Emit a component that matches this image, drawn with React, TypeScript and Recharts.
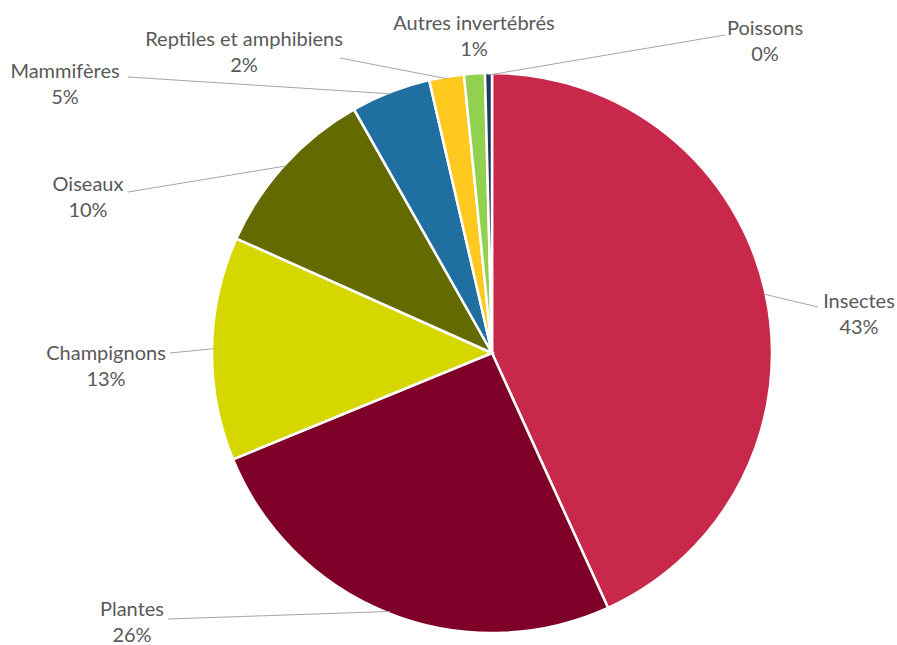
import { PieChart, Pie, Cell } from 'recharts';

// Répartition par groupe (sens horaire depuis midi)
const categories = [
    'Insectes',
    'Plantes',
    'Champignons',
    'Oiseaux',
    'Mammifères',
    'Reptiles et amphibiens',
    'Autres invertébrés',
    'Poissons',
];
const values = [43.2, 25.6, 12.9, 10.1, 4.6, 2.0, 1.2, 0.4];
const colors = ['#c8294a', '#7e0028', '#d6d600', '#636b00', '#1f6fa0', '#ffc91f', '#92d050', '#1f3864'];

// Position des étiquettes (centre du texte) et fin du trait de rappel
const labelLayout = [
    { x: 859, y: 300, lx: 818, ly: 307 },
    { x: 132, y: 608, lx: 168, ly: 619 },
    { x: 106, y: 352, lx: 170, ly: 353 },
    { x: 88, y: 183, lx: 128, ly: 192 },
    { x: 65, y: 70, lx: 128, ly: 77 },
    { x: 244, y: 38, lx: 340, ly: 58 },
    { x: 474, y: 22, lx: null, ly: null },
    { x: 765, y: 27, lx: 725, ly: 35 },
];

const data = categories.map((name, i) => ({ name, value: values[i] }));
const total = values.reduce((a, b) => a + b, 0);
const RAD = Math.PI / 180;

function renderLabel(props: any) {
    const { cx, cy, midAngle, outerRadius, index } = props;
    const pos = labelLayout[index];
    const sx = cx + (outerRadius - 2) * Math.cos(-midAngle * RAD);
    const sy = cy + (outerRadius - 2) * Math.sin(-midAngle * RAD);
    const pct = Math.round((values[index] / total) * 100);
    return (
        <g key={`label-${index}`}>
            {pos.lx !== null && (
                <line x1={sx} y1={sy} x2={pos.lx} y2={pos.ly} stroke="#a6a6a6" strokeWidth={1} />
            )}
            <text x={pos.x} y={pos.y} textAnchor="middle" dominantBaseline="central" fill="#595959" fontSize={20}>
                {categories[index]}
            </text>
            <text x={pos.x} y={pos.y + 26} textAnchor="middle" dominantBaseline="central" fill="#595959" fontSize={20}>
                {pct}%
            </text>
        </g>
    );
}

export default function App() {
    return (
        <div style={{ position: 'absolute', left: 0, top: 0, background: '#fff', fontFamily: 'Lato, sans-serif' }}>
            <PieChart width={897} height={645} margin={{ top: 0, right: 0, bottom: 0, left: 0 }}>
                <Pie
                    data={data}
                    dataKey="value"
                    cx={492}
                    cy={353}
                    outerRadius={280}
                    startAngle={90}
                    endAngle={-270}
                    stroke="#ffffff"
                    strokeWidth={2.5}
                    label={renderLabel}
                    labelLine={false}
                    isAnimationActive={false}
                >
                    {data.map((entry, index) => (
                        <Cell key={`cell-${index}`} fill={colors[index]} />
                    ))}
                </Pie>
            </PieChart>
        </div>
    );
}
